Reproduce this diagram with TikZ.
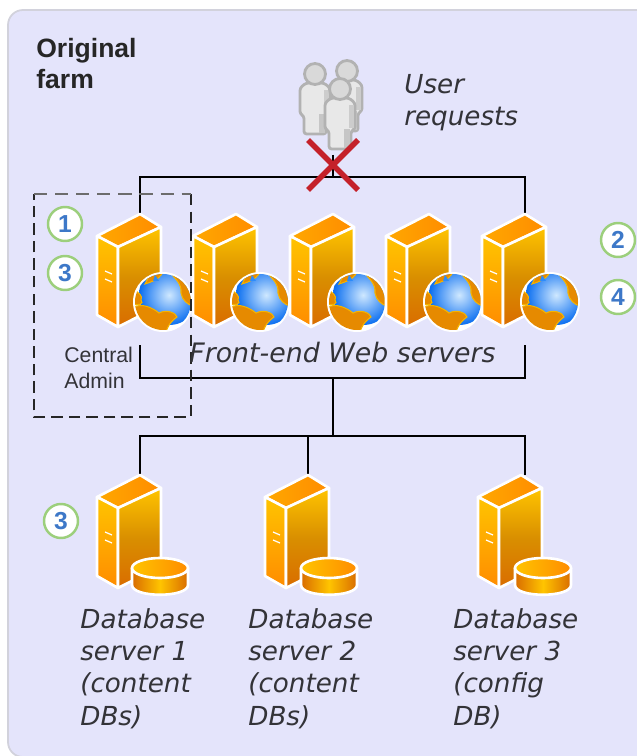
\documentclass[tikz,border=0pt]{standalone}
\usepackage{fontspec}
\setmainfont{DejaVu Sans}
\newfontfamily\labelfont{Liberation Sans}
\usepackage{tikz}
\usetikzlibrary{calc}
\definecolor{panelfill}{HTML}{E4E4FB}
\definecolor{panelline}{HTML}{D2D2DC}
\definecolor{badgeline}{HTML}{9CCF7C}
\definecolor{badgetext}{HTML}{3D78C8}
\definecolor{crossred}{HTML}{C4212A}
\definecolor{textgray}{HTML}{333338}
\definecolor{srvgold}{HTML}{FFC400}
\definecolor{srvamber}{HTML}{FFA800}
\definecolor{srvorange}{HTML}{FF8C00}
\definecolor{srvdark}{HTML}{D96C00}
\definecolor{seablue}{HTML}{0A6EF0}
\definecolor{seamid}{HTML}{2C8CFA}
\definecolor{seapale}{HTML}{CFE8FF}
\definecolor{landfill}{HTML}{E68A00}
\definecolor{landedge}{HTML}{F5B400}
\tikzset{link/.style = {draw=black,line width=1.1pt}}
\tikzset{badge/.style = {shape=circle,draw=badgeline,line width=1.4pt,fill=white,minimum size=0.68cm,inner sep=0pt,text=badgetext,font=\labelfont\bfseries\fontsize{14}{14}\selectfont}}
\tikzset{caption/.style = {anchor=north west,inner sep=0pt,align=left,text=textgray,font=\itshape\fontsize{14.9}{18.4}\selectfont}}
\tikzset{smallcaption/.style = {anchor=north west,inner sep=0pt,align=left,text=textgray,font=\labelfont\fontsize{12.1}{14.6}\selectfont}}
\tikzset{edgewhite/.style = {draw=white,line width=1.5pt,line join=round}}
\tikzset{land/.style = {fill=landfill,draw=landedge,line width=0.6pt}}
\tikzset{server/.pic = {
    \path[edgewhite,left color=srvamber,right color=srvorange] (0,0) -- (21,13) -- (-22,33) -- (-43,22) -- cycle;
    \path[edgewhite,top color=srvgold,bottom color=srvorange,middle color=srvamber] (-43,22) -- (-22,33) -- (-22,113) -- (-43,101) -- cycle;
    \path[edgewhite,top color=srvgold,bottom color=srvdark,middle color=srvamber!85!black] (-22,33) -- (21,13) -- (21,91) -- (-22,113) -- cycle;
    \draw[white,line width=0.7pt] (-35,57) -- (-28,60) (-35,65) -- (-28,68);
}}
\tikzset{webglobe/.pic = {
    \fill[white] (0,0) circle (30);
    \begin{scope}
        \clip (0,0) circle (28);
        \shade[inner color=seapale,middle color=seamid,outer color=seablue] (6,-7) circle (30);
        \path[land] (-30,6) .. controls (-22,0) and (-10,6) .. (-4,11) .. controls (4,7) and (13,11) .. (14,15) .. controls (7,20) and (5,24) .. (3,30) -- (-20,30) .. controls (-26,22) and (-24,14) .. (-30,6) -- cycle;
        \path[land] (-30,-12) .. controls (-24,-10) and (-20,-6) .. (-22,-2) .. controls (-18,2) and (-26,4) .. (-30,2) -- cycle;
        \path[land] (6,-30) .. controls (12,-24) and (19,-18) .. (18,-9) .. controls (19,-2) and (25,3) .. (30,4) -- (30,-30) -- cycle;
        \path[land] (-14,-30) .. controls (-14,-24) and (-16,-22) .. (-18,-18) .. controls (-12,-20) and (-4,-22) .. (0,-30) -- cycle;
        \fill[seamid] (-8,-27) -- (-4,-21) -- (-10,-21) -- cycle;
    \end{scope}
}}
\tikzset{dbdisk/.pic = {
    \path[edgewhite,left color=srvdark,right color=srvdark,middle color=srvgold] (-28,0) -- (-28,17) .. controls (-28,30) and (28,30) .. (28,17) -- (28,0) -- cycle;
    \path[edgewhite,left color=srvgold,right color=srvorange] (0,0) ellipse (28 and 10);
}}
\tikzset{person/.pic = {
    \path[draw=gray!60,line width=1.6pt,fill=gray!18,line join=round,rounded corners=1.5pt] (-9,9) -- (9,9) -- (15,14) -- (15,40) -- (11,42) -- (11,60) -- (-11,60) -- (-11,42) -- (-15,40) -- (-15,14) -- cycle;
    \fill[gray!45] (4,40) rectangle (10,59);
    \fill[gray!40] (9,16) rectangle (14,39);
    \draw[gray!60,line width=1.6pt,fill=gray!30] (0,0) circle (10.5);
}}
\begin{document}
\begin{tikzpicture}[x=0.02cm,y=-0.02cm]
            \useasboundingbox (0,0) rectangle (636,756);

            % Panel
            \draw[panelline,fill=panelfill,line width=1pt,rounded corners=0.3cm] (8,10) -- (670,10) -- (670,757) -- (8,757) -- cycle;

            % Bus points
            \coordinate (web1) at (140,214);
            \coordinate (web2) at (236,214);
            \coordinate (web3) at (333,214);
            \coordinate (web4) at (429,214);
            \coordinate (web5) at (525,214);
            \coordinate (db1) at (140,475);
            \coordinate (db2) at (308,475);
            \coordinate (db3) at (525,475);
            \coordinate (users) at (333,155);
            \coordinate (topbus) at (333,177);
            \coordinate (lowbus) at (333,378);
            \coordinate (dbbus) at (333,436);
            \coordinate (webfoot1) at (140,345);
            \coordinate (webfoot5) at (525,345);

            % Edges
            \draw[link] (users) to (topbus);
            \draw[link] (web1) |- (topbus);
            \draw[link] (web5) |- (topbus);
            \draw[link] (webfoot1) |- (lowbus);
            \draw[link] (webfoot5) |- (lowbus);
            \draw[link] (lowbus) to (dbbus);
            \draw[link] (db1) |- (dbbus);
            \draw[link] (db2) to (db2 |- dbbus);
            \draw[link] (db3) |- (dbbus);

            % Users
            \pic at (315,74) {person};
            \pic at (347,71) {person};
            \pic at (340,89) {person};
            \coordinate (crossa) at (308,140);
            \coordinate (crossb) at (358,190);
            \coordinate (crossc) at (358,140);
            \coordinate (crossd) at (308,190);
            \draw[crossred,line width=3.2pt] (crossa) to (crossb);
            \draw[crossred,line width=3.2pt] (crossc) to (crossd);

            % Web servers
            \pic at (web1) {server};
            \pic at (163,302) {webglobe};
            \pic at (web2) {server};
            \pic at (260,302) {webglobe};
            \pic at (web3) {server};
            \pic at (357,302) {webglobe};
            \pic at (web4) {server};
            \pic at (453,302) {webglobe};
            \pic at (web5) {server};
            \pic at (550,302) {webglobe};

            % Database servers
            \pic at (db1) {server};
            \pic at (160,568) {dbdisk};
            \pic at (db2) {server};
            \pic at (329,568) {dbdisk};
            \pic at ($(db3)+(-4,0)$) {server};
            \pic at (543,568) {dbdisk};

            % Central admin box
            \coordinate (boxa) at (34,194);
            \coordinate (boxb) at (191,194);
            \coordinate (boxc) at (191,417);
            \coordinate (boxd) at (34,417);
            \draw[black!85,line width=0.9pt,dash pattern=on 6.5pt off 3.5pt] (boxb) to (boxc) to (boxd) to (boxa);
            \draw[gray!85!black,line width=1.4pt,dash pattern=on 7.5pt off 4.5pt] (boxa) to (boxb);

            % Badges
            \node[badge] (one) at (65,224) {1};
            \node[badge] (three) at (65,273) {3};
            \node[badge] (two) at (618,240) {2};
            \node[badge] (four) at (618,297) {4};
            \node[badge] (dbthree) at (61,521) {3};

            % Labels
            \node[anchor=north west,inner sep=0pt,align=left,text=black!85,font=\labelfont\bfseries\fontsize{15.1}{17.6}\selectfont] (title) at (36,38) {Original\\farm};
            \node[caption] (userlabel) at (404,74) {User\\requests};
            \node[caption,font=\itshape\fontsize{15.25}{18.4}\selectfont] (weblabel) at (189,342) {Front-end Web servers};
            \node[smallcaption] (adminlabel) at (64,347) {Central\\Admin};
            \node[caption] (dblabela) at (80,608) {Database\\server 1\\(content\\DBs)};
            \node[caption] (dblabelb) at (248,608) {Database\\server 2\\(content\\DBs)};
            \node[caption] (dblabelc) at (453,608) {Database\\server 3\\(config\\DB)};
        \end{tikzpicture}
\end{document}
